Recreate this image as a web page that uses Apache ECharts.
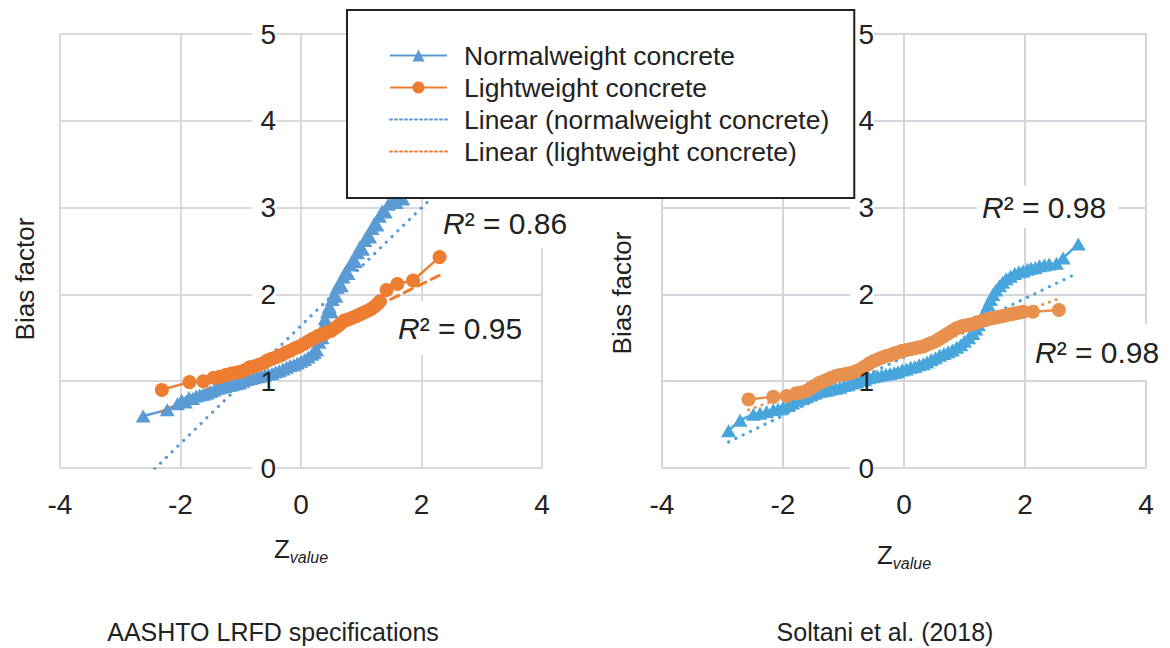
<!DOCTYPE html>
<html>
<head>
<meta charset="utf-8">
<title>Bias factor vs Z value</title>
<script src="https://cdn.jsdelivr.net/npm/echarts@6/dist/echarts.min.js"></script>
<style>
  html, body { margin: 0; padding: 0; background: #fff; }
  #chart { width: 1170px; height: 648px; }
</style>
</head>
<body>
<div id="chart"></div>
<script>
// 名称与刻度
var seriesNames = [
  "Normalweight concrete",
  "Lightweight concrete",
  "Linear (normalweight concrete)",
  "Linear (lightweight concrete)"
];
var panelTitles = ["AASHTO LRFD specifications", "Soltani et al. (2018)"];
var xTicks = [-4, -2, 0, 2, 4];
var yTicks = [0, 1, 2, 3, 4, 5];
var r2Texts = [["0.86", "0.95"], ["0.98", "0.98"]];

// 左图 AASHTO: [Z, bias factor]
var aashtoNormal = [
  [-2.62, 0.60], [-2.22, 0.67], [-2.05, 0.74], [-1.98, 0.78], [-1.92, 0.76],
  [-1.86, 0.81], [-1.80, 0.80], [-1.74, 0.83], [-1.68, 0.84], [-1.62, 0.85],
  [-1.56, 0.86], [-1.50, 0.88], [-1.44, 0.90], [-1.38, 0.92], [-1.32, 0.93],
  [-1.26, 0.94], [-1.20, 0.95], [-1.14, 0.96], [-1.08, 0.97], [-1.02, 0.98],
  [-0.96, 1.00], [-0.90, 1.02], [-0.84, 1.03], [-0.78, 1.04], [-0.72, 1.05],
  [-0.66, 1.06], [-0.60, 1.07], [-0.54, 1.08], [-0.48, 1.09], [-0.42, 1.11],
  [-0.36, 1.12], [-0.30, 1.14], [-0.24, 1.16], [-0.18, 1.18], [-0.12, 1.19],
  [-0.06, 1.21], [0.00, 1.23], [0.06, 1.25], [0.12, 1.28], [0.18, 1.31],
  [0.22, 1.33], [0.26, 1.36], [0.30, 1.45], [0.33, 1.55], [0.35, 1.50],
  [0.37, 1.63], [0.40, 1.72], [0.42, 1.66], [0.44, 1.80], [0.47, 1.86],
  [0.50, 1.80], [0.52, 1.94], [0.55, 2.00], [0.58, 1.98], [0.60, 2.08],
  [0.63, 2.12], [0.67, 2.10], [0.70, 2.20], [0.74, 2.26], [0.78, 2.24],
  [0.82, 2.34], [0.86, 2.40], [0.90, 2.38], [0.94, 2.48], [0.98, 2.55],
  [1.02, 2.52], [1.06, 2.62], [1.10, 2.68], [1.14, 2.66], [1.18, 2.76],
  [1.22, 2.82], [1.26, 2.80], [1.30, 2.90], [1.35, 2.96], [1.40, 2.95],
  [1.45, 3.04], [1.52, 3.08], [1.58, 3.06], [1.64, 3.12], [1.69, 3.10]
];
var aashtoLight = [
  [-2.31, 0.90], [-1.85, 0.99], [-1.62, 1.00], [-1.45, 1.04], [-1.35, 1.05],
  [-1.25, 1.07], [-1.15, 1.09], [-1.07, 1.10], [-1.00, 1.11], [-0.92, 1.13],
  [-0.85, 1.16], [-0.78, 1.17], [-0.70, 1.19], [-0.62, 1.21], [-0.55, 1.24],
  [-0.48, 1.26], [-0.40, 1.28], [-0.33, 1.30], [-0.25, 1.33], [-0.18, 1.35],
  [-0.10, 1.38], [-0.03, 1.40], [0.05, 1.43], [0.12, 1.46], [0.20, 1.49],
  [0.28, 1.52], [0.35, 1.54], [0.42, 1.56], [0.50, 1.58], [0.56, 1.61],
  [0.62, 1.64], [0.67, 1.67], [0.72, 1.70], [0.78, 1.71], [0.85, 1.73],
  [0.92, 1.75], [0.98, 1.77], [1.04, 1.79], [1.10, 1.81], [1.16, 1.83],
  [1.22, 1.86], [1.27, 1.89], [1.31, 1.92], [1.42, 2.05], [1.60, 2.12],
  [1.86, 2.16], [2.30, 2.43]
];
var aashtoNormalFit = [[-2.62, -0.14], [2.62, 3.42]];
var aashtoLightFit = [[-2.31, 0.65], [2.30, 2.22]];

// 右图 Soltani
var soltaniNormal = [
  [-2.90, 0.43], [-2.71, 0.55], [-2.49, 0.62], [-2.38, 0.63], [-2.27, 0.65],
  [-2.16, 0.67], [-2.08, 0.68], [-2.00, 0.70], [-1.92, 0.72], [-1.84, 0.75],
  [-1.76, 0.78], [-1.68, 0.80], [-1.61, 0.82], [-1.54, 0.84], [-1.47, 0.86],
  [-1.40, 0.88], [-1.33, 0.89], [-1.26, 0.90], [-1.20, 0.91], [-1.13, 0.92],
  [-1.06, 0.93], [-0.99, 0.95], [-0.92, 0.96], [-0.85, 0.98], [-0.78, 0.99],
  [-0.71, 1.01], [-0.65, 1.02], [-0.58, 1.04], [-0.51, 1.05], [-0.44, 1.06],
  [-0.37, 1.07], [-0.30, 1.08], [-0.23, 1.09], [-0.16, 1.10], [-0.10, 1.11],
  [-0.03, 1.13], [0.04, 1.14], [0.11, 1.16], [0.18, 1.17], [0.25, 1.19],
  [0.32, 1.20], [0.38, 1.22], [0.45, 1.25], [0.52, 1.27], [0.59, 1.30],
  [0.66, 1.32], [0.73, 1.34], [0.80, 1.36], [0.87, 1.39], [0.94, 1.42],
  [1.00, 1.46], [1.07, 1.50], [1.14, 1.55], [1.19, 1.60], [1.23, 1.65],
  [1.27, 1.70], [1.31, 1.76], [1.35, 1.82], [1.39, 1.88], [1.43, 1.94],
  [1.47, 2.00], [1.52, 2.05], [1.58, 2.10], [1.63, 2.14], [1.69, 2.18],
  [1.76, 2.21], [1.83, 2.24], [1.90, 2.26], [1.97, 2.27], [2.04, 2.29],
  [2.10, 2.30], [2.17, 2.31], [2.24, 2.33], [2.32, 2.34], [2.40, 2.35],
  [2.52, 2.36], [2.63, 2.42], [2.88, 2.58]
];
var soltaniLight = [
  [-2.57, 0.79], [-2.16, 0.82], [-1.94, 0.83], [-1.78, 0.86], [-1.70, 0.87],
  [-1.61, 0.89], [-1.54, 0.92], [-1.47, 0.95], [-1.40, 0.98], [-1.33, 1.00],
  [-1.26, 1.02], [-1.20, 1.04], [-1.13, 1.06], [-1.06, 1.07], [-0.99, 1.08],
  [-0.92, 1.09], [-0.85, 1.10], [-0.78, 1.12], [-0.71, 1.14], [-0.65, 1.17],
  [-0.58, 1.20], [-0.51, 1.23], [-0.44, 1.25], [-0.37, 1.27], [-0.30, 1.29],
  [-0.23, 1.30], [-0.16, 1.32], [-0.10, 1.33], [-0.03, 1.35], [0.04, 1.36],
  [0.11, 1.37], [0.18, 1.38], [0.25, 1.39], [0.32, 1.40], [0.38, 1.42],
  [0.45, 1.44], [0.52, 1.46], [0.59, 1.49], [0.66, 1.52], [0.73, 1.55],
  [0.80, 1.58], [0.87, 1.61], [0.94, 1.63], [1.00, 1.64], [1.07, 1.65],
  [1.14, 1.66], [1.21, 1.68], [1.28, 1.69], [1.35, 1.71], [1.42, 1.72],
  [1.49, 1.73], [1.56, 1.74], [1.63, 1.75], [1.69, 1.76], [1.76, 1.77],
  [1.83, 1.78], [1.90, 1.79], [1.97, 1.80], [2.13, 1.80], [2.56, 1.82]
];
var soltaniNormalFit = [[-2.90, 0.30], [2.88, 2.25]];
var soltaniLightFit = [[-2.57, 0.67], [2.56, 1.95]];

(function () {
    var myChart = echarts.init(document.getElementById("chart"), null, { renderer: "svg" });
    var font = "Liberation Sans, Arial, sans-serif";
    var ink = "#222";
    var panels = [
        { left: 60, width: 482, blue: "#5b9bd5", orange: "#ed7d31", grid: "#d9d9d9", labelMargin: 25,
          normal: aashtoNormal, light: aashtoLight, normalFit: aashtoNormalFit, lightFit: aashtoLightFit,
          lightFitType: [9, 6] },
        { left: 662, width: 484, blue: "#48a6dc", orange: "#e8914f", grid: "#d3d6dd", labelMargin: 30,
          normal: soltaniNormal, light: soltaniLight, normalFit: soltaniNormalFit, lightFit: soltaniLightFit,
          lightFitType: [0.1, 7] }
    ];

    var grids = [], xAxes = [], yAxes = [], series = [];
    panels.forEach(function (p, i) {
        grids.push({ left: p.left, top: 34, width: p.width, height: 434, outerBoundsMode: "none" });
        xAxes.push({
            gridIndex: i, type: "value",
            min: xTicks[0], max: xTicks[xTicks.length - 1], interval: 2,
            axisLine: { show: false, onZero: false },
            axisTick: { show: false },
            splitLine: { lineStyle: { color: p.grid, width: 2 } },
            axisLabel: { fontSize: 28, lineHeight: 28, color: ink, fontFamily: font, margin: 22 },
            name: "{z|Z}{s|value}",
            nameLocation: "middle",
            nameGap: 66 + i * 6,
            nameMoveOverlap: false,
            nameTextStyle: {
                rich: {
                    z: { fontSize: 26, lineHeight: 30, color: ink, fontFamily: font },
                    s: { fontSize: 16, lineHeight: 30, color: ink, fontFamily: font, fontStyle: "italic", padding: [16, 0, 0, 0] }
                }
            }
        });
        // 网格线用的y轴
        yAxes.push({
            gridIndex: i, type: "value", position: "left",
            min: yTicks[0], max: yTicks[yTicks.length - 1], interval: 1,
            axisLine: { show: false, onZero: false },
            axisTick: { show: false },
            axisLabel: { show: false },
            splitLine: { lineStyle: { color: p.grid, width: 2 } }
        });
        // 标签底色 (白框, 在数据下面), 移到 x=0 处
        yAxes.push({
            gridIndex: i, type: "value", position: "left", z: 1,
            offset: -p.width / 2,
            min: yTicks[0], max: yTicks[yTicks.length - 1], interval: 1,
            axisLine: { show: false, onZero: false },
            axisTick: { show: false },
            splitLine: { show: false },
            axisLabel: {
                formatter: function () { return "\u00a0"; },
                width: 18, height: 28, fontSize: 28, margin: p.labelMargin,
                backgroundColor: "#fff", padding: [0, 3]
            }
        });
        // 标签文字 (在数据上面)
        yAxes.push({
            gridIndex: i, type: "value", position: "left", z: 3,
            offset: -p.width / 2,
            min: yTicks[0], max: yTicks[yTicks.length - 1], interval: 1,
            axisLine: { show: false, onZero: false },
            axisTick: { show: false },
            splitLine: { show: false },
            axisLabel: { fontSize: 28, lineHeight: 28, color: ink, fontFamily: font, margin: p.labelMargin }
        });
        var yi = i * 3;
        series.push({
            name: seriesNames[0], type: "line", xAxisIndex: i, yAxisIndex: yi,
            data: p.normal, symbol: "triangle", symbolSize: [15, 13],
            lineStyle: { color: p.blue, width: 2.5 }, itemStyle: { color: p.blue }, z: 2
        });
        series.push({
            name: seriesNames[1], type: "line", xAxisIndex: i, yAxisIndex: yi,
            data: p.light, symbol: "circle", symbolSize: 14,
            lineStyle: { color: p.orange, width: 2.5 }, itemStyle: { color: p.orange }, z: 2
        });
        series.push({
            name: seriesNames[2], type: "line", xAxisIndex: i, yAxisIndex: yi,
            data: p.normalFit, symbol: "none",
            lineStyle: { color: p.blue, width: 3.2, type: [0.1, 8], cap: "round" },
            itemStyle: { color: p.blue }, z: 2
        });
        series.push({
            name: seriesNames[3], type: "line", xAxisIndex: i, yAxisIndex: yi,
            data: p.lightFit, symbol: "none",
            lineStyle: { color: p.orange, width: 3, type: p.lightFitType, cap: "round" },
            itemStyle: { color: p.orange }, z: 2
        });
    });

    // R² 标注
    function r2(text, x, y, pad) {
        return {
            type: "text", x: x, y: y, z: 1,
            style: {
                text: "{i|R}\u00b2 = " + text,
                fontSize: 30, fontFamily: font, fill: ink,
                rich: { i: { fontStyle: "italic", fontSize: 30, fontFamily: font, fill: ink } },
                backgroundColor: "#fff", padding: pad,
                align: "left", verticalAlign: "middle", textAlign: "left", textVerticalAlign: "middle"
            }
        };
    }
    function plain(text, x, y, size, rot) {
        return {
            type: "text", x: x, y: y, rotation: rot || 0, z: 1,
            style: {
                text: text, fontSize: size, fontFamily: font, fill: ink,
                align: "center", verticalAlign: "middle", textAlign: "center", textVerticalAlign: "middle"
            }
        };
    }

    var option = {
        animation: false,
        backgroundColor: "#fff",
        legend: {
            orient: "vertical", left: 347, top: 10,
            padding: [32, 25, 33, 42],
            itemWidth: 57, itemHeight: 15, itemGap: 5,
            backgroundColor: "#fff", borderColor: ink, borderWidth: 2,
            selectedMode: false,
            textStyle: { fontSize: 26.5, lineHeight: 26, color: ink, fontFamily: font, padding: [0, 0, 0, 12] },
            data: [
                { name: seriesNames[0] },
                { name: seriesNames[1] },
                { name: seriesNames[2], itemStyle: { opacity: 0 }, lineStyle: { width: 2, type: [2, 3] } },
                { name: seriesNames[3], itemStyle: { opacity: 0 }, lineStyle: { width: 2, type: [2, 3] } }
            ]
        },
        grid: grids,
        xAxis: xAxes,
        yAxis: yAxes,
        series: series,
        graphic: [
            plain("Bias factor", 25, 279, 26, Math.PI / 2),
            plain("Bias factor", 622, 293, 26, Math.PI / 2),
            plain(panelTitles[0], 273, 632, 25),
            plain(panelTitles[1], 885, 632, 25),
            r2(r2Texts[0][0], 425, 223, [10, 10, 10, 18]),
            r2(r2Texts[0][1], 392, 328, [12, 10, 12, 6]),
            r2(r2Texts[1][0], 977, 207, [6, 12, 6, 5]),
            r2(r2Texts[1][1], 1029, 352, [13, 6, 13, 6])
        ]
    };
    myChart.setOption(option);
})();
</script>
</body>
</html>
